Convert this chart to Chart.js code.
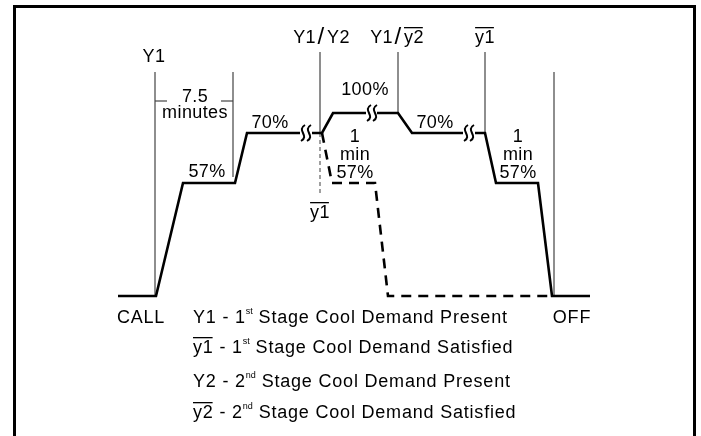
<!DOCTYPE html>
<html>
<head>
<meta charset="utf-8">
<script src="https://cdn.jsdelivr.net/npm/chart.js@4"></script>
<style>
body{margin:0;background:#fff}
#wrap{position:relative;width:701px;height:436px;overflow:hidden}
#frame{position:absolute;left:13px;top:5px;width:683px;height:500px;border:3px solid #000;box-sizing:border-box}
canvas{position:absolute;left:0;top:0}
</style>
</head>
<body>
<div id="wrap">
<div id="frame"></div>
<canvas id="myChart" width="701" height="436"></canvas>
</div>
<script>
// compressor capacity curve (x = time, h = height above the off line)
// null = break in the line (squiggle marks)
var curveT = [118,156,183,235,247,300,null,312,322,333,366,null,377,398,412,463,null,475,485,496,538,552,590]
var curveH = [0,0,113,113,163,163,null,163,163,183,183,null,183,183,163,163,null,163,163,113,113,0,0]
// dashed path when y1 is satisfied right after Y1/Y2
var dashT = [322,332,375,388,552]
var dashH = [163,113,113,0,0]
// thermostat event markers (thin verticals): x, top, bottom
var markT = [155,233,320,398,485,554]
var markTop = [224,224,244,244,244,224]
var markBot = [0,119,163,183,163,0]
// break marks on the flat parts
var breakT = [303,309,369,375,466,472]
var breakH = [163,163,183,183,163,163]

function pts(xs,ys){
    var out=[]
    for(var i=0;i<xs.length;i++){
        out.push({x:xs[i]==null?NaN:xs[i], y:ys[i]})
    }
    return out
}

var datasets = []
datasets.push({data:pts(curveT,curveH),borderColor:'#000',borderWidth:2.6,pointRadius:0,spanGaps:false,borderJoinStyle:'miter'})
datasets.push({data:pts(dashT,dashH),borderColor:'#000',borderWidth:2.6,pointRadius:0,borderDash:[10,7],borderJoinStyle:'miter'})
datasets.push({data:pts([320,320],[163,101]),borderColor:'#777',borderWidth:1.4,pointRadius:0,borderDash:[4,3]})
for(var i=0;i<markT.length;i++){
    datasets.push({data:pts([markT[i],markT[i]],[markTop[i],markBot[i]]),borderColor:'#444',borderWidth:1.2,pointRadius:0})
}
// 7.5 minutes bracket ticks
datasets.push({data:pts([155,167],[195,195]),borderColor:'#444',borderWidth:1.2,pointRadius:0})
datasets.push({data:pts([221,233],[195,195]),borderColor:'#444',borderWidth:1.2,pointRadius:0})

// text labels: text, x, h, overline part
var labels = [
    ['Y1',154,239,''],
    ['7.5',195,199,''],
    ['minutes',195,183,''],
    ['57%',207,124,''],
    ['70%',270,173,''],
    ['100%',365,206,''],
    ['1',355,159,''],['min',355,141,''],['57%',355,123,''],
    ['70%',435,173,''],
    ['1',518,159,''],['min',518,141,''],['57%',518,123,''],
    ['y1',485,258,'y1'],
    ['y1',320,83,'y1']
]
// two-part labels split by a tall slash
var slashLabels = [
    ['Y1','Y2',321,258,false],
    ['Y1','y2',398,258,true]
]
var legend = [
    ['Y1','1','st',' Stage Cool Demand Present',-22],
    ['y1','1','st',' Stage Cool Demand Satisfied',-52],
    ['Y2','2','nd',' Stage Cool Demand Present',-86],
    ['y2','2','nd',' Stage Cool Demand Satisfied',-117]
]

var F = '"Liberation Sans", Arial, sans-serif'
var textPlugin = {
    id:'texts',
    afterDatasetsDraw(chart){
        var ctx = chart.ctx
        var sx = chart.scales.x, sy = chart.scales.y
        ctx.save()
        // break marks
        ctx.strokeStyle='#000'
        ctx.lineWidth=2
        for(var i=0;i<breakT.length;i++){
            var px=sx.getPixelForValue(breakT[i]), py=sy.getPixelForValue(breakH[i])
            ctx.beginPath()
            ctx.moveTo(px+2,py-8)
            ctx.bezierCurveTo(px-7,py-3,px+7,py+3,px-2,py+8)
            ctx.stroke()
        }
        ctx.fillStyle='#000'
        ctx.textAlign='center'
        ctx.textBaseline='middle'
        ctx.font='18px '+F
        ctx.letterSpacing='0.4px'
        labels.forEach(function(l){
            var px=sx.getPixelForValue(l[1]), py=sy.getPixelForValue(l[2])
            ctx.fillText(l[0],px,py)
            if(l[3]){
                var w=ctx.measureText(l[0]).width
                var wo=ctx.measureText(l[3]).width
                ctx.fillRect(px+w/2-wo,py-11,wo-1,1.3)
            }
        })
        slashLabels.forEach(function(l){
            var px=sx.getPixelForValue(l[2]), py=sy.getPixelForValue(l[3])
            ctx.font='18px '+F
            ctx.textAlign='right'
            ctx.fillText(l[0],px-5,py)
            ctx.textAlign='left'
            ctx.fillText(l[1],px+6,py)
            if(l[4]){
                var wo=ctx.measureText(l[1]).width
                ctx.fillRect(px+6,py-11,wo-1,1.3)
            }
            ctx.textAlign='center'
            ctx.font='24px '+F
            ctx.fillText('/',px,py-1)
        })
        ctx.font='18px '+F
        ctx.letterSpacing='0.8px'
        ctx.fillText('CALL',sx.getPixelForValue(141),sy.getPixelForValue(-22))
        ctx.fillText('OFF',sx.getPixelForValue(572),sy.getPixelForValue(-22))
        ctx.textAlign='left'
        legend.forEach(function(l,i){
            var x=sx.getPixelForValue(193), y=sy.getPixelForValue(l[4])
            ctx.font='18px '+F
            ctx.fillText(l[0],x,y)
            var w0=ctx.measureText(l[0]).width
            if(i%2==1) ctx.fillRect(x,y-11,w0-1,1.3)
            var s=' - '+l[1]
            ctx.fillText(s,x+w0,y)
            var w1=ctx.measureText(s).width
            ctx.font='9px '+F
            ctx.letterSpacing='0px'
            ctx.fillText(l[2],x+w0+w1,y-6)
            var w2=ctx.measureText(l[2]).width
            ctx.font='18px '+F
            ctx.letterSpacing='0.8px'
            ctx.fillText(l[3],x+w0+w1+w2,y)
        })
        ctx.restore()
    }
}

var char = new Chart(document.getElementById('myChart'),{
    type:'line',
    data:{datasets:datasets},
    options:{
        responsive:false,
        animation:false,
        events:[],
        layout:{padding:0},
        plugins:{legend:{display:false},tooltip:{enabled:false}},
        scales:{
            x:{type:'linear',min:0,max:701,display:false},
            y:{type:'linear',min:-140,max:296,display:false}
        }
    },
    plugins:[textPlugin]
})
</script>
</body>
</html>
